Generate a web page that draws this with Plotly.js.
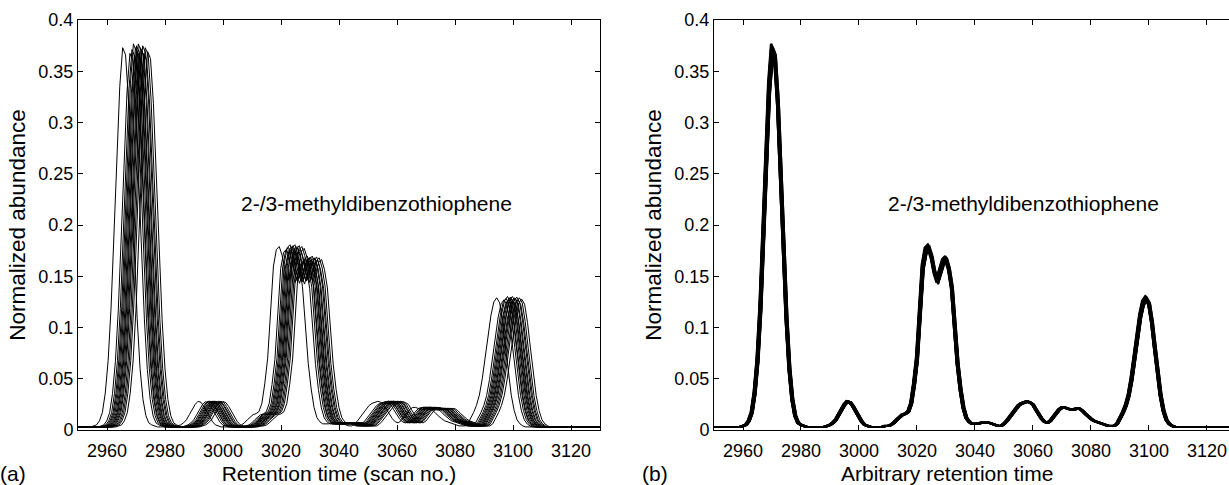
<!DOCTYPE html>
<html>
<head>
<meta charset="utf-8">
<script src="https://cdn.plot.ly/plotly-3.0.1.min.js"></script>
<style>
html,body{margin:0;padding:0;background:#fff;}
#chart{width:1229px;height:485px;}
</style>
</head>
<body>
<div id="chart"></div>
<script>
// ---- data ----
// scan numbers of the common aligned profile (one sample per scan)
const scanStart = 2950;
const scanEnd = 3130;

// aligned (target) chromatographic profile, one value per scan 2950..3130
const alignedProfile = [
  0.003,0.003,0.003,0.003,0.003,0.003,0.003,0.003,0.003,0.003,
  0.004,0.005,0.009,0.017,0.036,0.068,0.119,0.188,0.265,0.335,
  0.373,0.366,0.322,0.252,0.176,0.109,0.060,0.030,0.014,0.007,
  0.005,0.004,0.003,0.003,0.003,0.003,0.003,0.003,0.003,0.004,
  0.005,0.007,0.010,0.015,0.020,0.025,0.028,0.027,0.023,0.018,
  0.013,0.008,0.005,0.004,0.003,0.003,0.003,0.003,0.003,0.004,
  0.004,0.005,0.007,0.010,0.013,0.015,0.016,0.018,0.026,0.045,
  0.070,0.120,0.160,0.176,0.179,0.170,0.155,0.146,0.155,0.165,
  0.168,0.158,0.140,0.105,0.065,0.040,0.022,0.012,0.008,0.006,
  0.006,0.006,0.007,0.007,0.007,0.007,0.006,0.005,0.004,0.004,
  0.006,0.009,0.013,0.017,0.021,0.024,0.026,0.027,0.028,0.027,
  0.025,0.020,0.015,0.011,0.008,0.007,0.009,0.013,0.017,0.020,
  0.022,0.022,0.021,0.020,0.020,0.021,0.021,0.019,0.016,0.013,
  0.011,0.009,0.008,0.007,0.006,0.005,0.004,0.004,0.004,0.006,
  0.011,0.017,0.024,0.034,0.050,0.070,0.092,0.112,0.125,0.129,
  0.124,0.106,0.081,0.055,0.034,0.019,0.010,0.006,0.004,0.003,
  0.003,0.003,0.003,0.003,0.003,0.003,0.003,0.003,0.003,0.003,
  0.003,0.003,0.003,0.003,0.003,0.003,0.003,0.003,0.003,0.003,
  0.003
];

// retention shift of each run before alignment (scans), panel (a)
const runShifts = [-4.6,-2.1,-1.4,-0.9,-0.6,-0.2,0.2,0.5,0.8,1.1,1.5,1.8,2.3,2.7,3.2,4.0];
// relative intensity of each run
const runScales = [1.000,0.985,0.995,1.010,0.980,1.000,1.005,0.990,1.010,0.975,1.000,0.995,1.005,0.985,1.000,0.990];
// residual misalignment of each run after alignment (scans), panel (b)
const residualShifts = [0.35,-0.30,0.15,-0.40,0.25,-0.10,0.00,0.40,-0.20,0.30,-0.35,0.10,-0.15,0.20,-0.25,0.05];

const xTickVals = [2960,2980,3000,3020,3040,3060,3080,3100,3120];
const compoundLabel = '2-/3-methyldibenzothiophene';
const panelLabels = ['(a)','(b)'];
const xTitles = ['Retention time (scan no.)','Arbitrary retention time'];
const yTitle = 'Normalized abundance';

// ---- build traces ----
const scans = [];
for (let s = scanStart; s <= scanEnd; s++) scans.push(s);

const traces = [];
runShifts.forEach((sh, i) => {
  traces.push({
    x: scans.map(s => s + sh),
    y: alignedProfile.map(v => v * runScales[i]),
    xaxis: 'x', yaxis: 'y',
    type: 'scatter', mode: 'lines',
    line: {color: '#000', width: 1},
    hoverinfo: 'skip', showlegend: false
  });
});
residualShifts.forEach((sh, i) => {
  traces.push({
    x: scans.map(s => s + sh),
    y: alignedProfile.map(v => v * runScales[i]),
    xaxis: 'x2', yaxis: 'y2',
    type: 'scatter', mode: 'lines',
    line: {color: '#000', width: 2},
    hoverinfo: 'skip', showlegend: false
  });
});

const W = 1229, H = 485;
const font = {family: 'Liberation Sans, Arial, sans-serif', color: '#000'};
const tickFont = Object.assign({}, font, {size: 18});
const titleFont = Object.assign({}, font, {size: 21});
const yTitleFont = Object.assign({}, font, {size: 22.5});

function xAxis(domain, range, titleText, mirror) {
  return {
    domain: domain, range: range,
    tickmode: 'array', tickvals: xTickVals,
    ticks: 'inside', ticklen: 5, tickwidth: 1, tickcolor: '#000',
    ticklabelstandoff: 4,
    showline: true, linecolor: '#000', linewidth: 1, mirror: mirror,
    showgrid: false, zeroline: false,
    tickfont: tickFont,
    title: titleText ? {text: titleText, font: titleFont, standoff: 12} : undefined
  };
}
function yAxis(mirror) {
  return {
    domain: [55/H, 465/H], range: [0, 0.4],
    tickmode: 'linear', tick0: 0, dtick: 0.05,
    ticks: 'inside', ticklen: 5, tickwidth: 1, tickcolor: '#000',
    showline: true, linecolor: '#000', linewidth: 1, mirror: mirror,
    showgrid: false, zeroline: false,
    tickfont: tickFont,
    title: {text: yTitle, font: yTitleFont, standoff: 6}
  };
}

const xa = xAxis([78/W, 600/W], [2950, 3130], xTitles[0], 'ticks');
xa.anchor = 'y';
const xa2 = xAxis([714/W, 1], [2950, 3127.6], null, 'ticks');
xa2.anchor = 'y2';
const ya = yAxis('ticks'); ya.anchor = 'x';
const ya2 = yAxis(false); ya2.anchor = 'x2';

const layout = {
  width: W, height: H,
  margin: {l: 0, r: 0, t: 0, b: 0, pad: 0},
  paper_bgcolor: '#fff', plot_bgcolor: '#fff',
  font: font,
  showlegend: false,
  xaxis: xa, yaxis: ya, xaxis2: xa2, yaxis2: ya2,
  annotations: [
    {text: compoundLabel, xref: 'x', yref: 'y', x: 3052.8, y: 0.2205,
     showarrow: false, font: titleFont, xanchor: 'center', yanchor: 'middle'},
    {text: compoundLabel, xref: 'x2', yref: 'y2', x: 3056.9, y: 0.2205,
     showarrow: false, font: titleFont, xanchor: 'center', yanchor: 'middle'},
    {text: panelLabels[0], xref: 'paper', yref: 'paper', x: 13/W, y: (H-473)/H,
     showarrow: false, font: titleFont, xanchor: 'center', yanchor: 'middle'},
    {text: panelLabels[1], xref: 'paper', yref: 'paper', x: 655/W, y: (H-473)/H,
     showarrow: false, font: titleFont, xanchor: 'center', yanchor: 'middle'},
    {text: xTitles[1], xref: 'paper', yref: 'paper', x: 947/W, y: (H-473)/H,
     showarrow: false, font: titleFont, xanchor: 'center', yanchor: 'middle'}
  ]
};

Plotly.newPlot('chart', traces, layout, {staticPlot: true, displayModeBar: false});
</script>
</body>
</html>
